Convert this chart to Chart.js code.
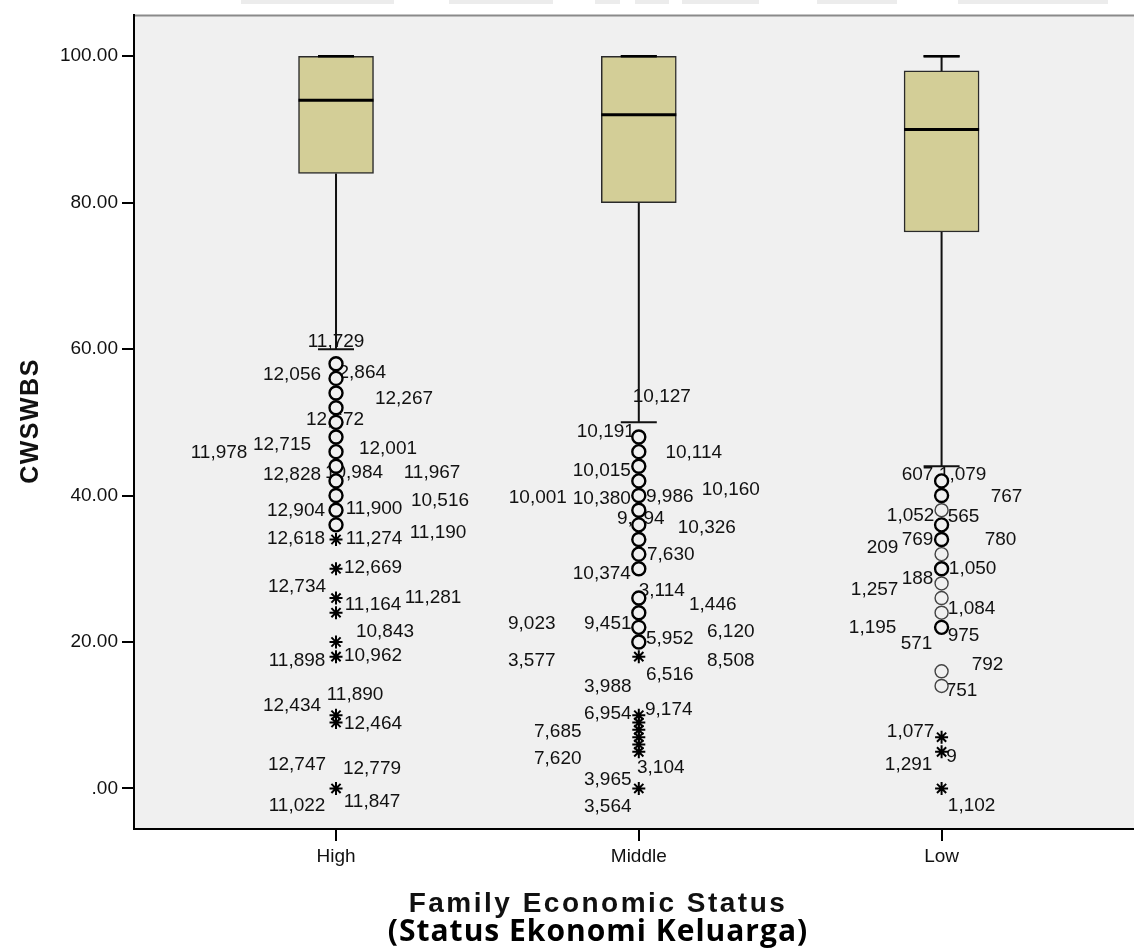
<!DOCTYPE html>
<html>
<head>
<meta charset="utf-8">
<script src="https://cdn.jsdelivr.net/npm/chart.js@4.4.0/dist/chart.umd.min.js"></script>
<style>
  html, body { margin: 0; padding: 0; background: #ffffff; }
  #wrap { width: 1134px; height: 948px; position: relative; }
</style>
</head>
<body>
<div id="wrap"><canvas id="c" width="1134" height="948"></canvas></div>
<script>
// ---------- DATA ----------
const categories = ["High", "Middle", "Low"];
const tickValues = [0, 20, 40, 60, 80, 100];
const tickLabels = [".00", "20.00", "40.00", "60.00", "80.00", "100.00"];

const whiskerLow  = [60, 50, 44];
const q1          = [84, 80, 76];
const medians     = [94, 92, 90];
const q3          = [100, 100, 98];
const whiskerHigh = [100, 100, 100];

const highCircles   = [58, 56, 54, 52, 50, 48, 46, 44, 42, 40, 38, 36];
const highStars     = [34, 30, 26, 24, 20, 18, 10, 9, 0];
const middleCircles = [48, 46, 44, 42, 40, 38, 36, 34, 32, 30, 26, 24, 22, 20];
const middleStars   = [18, 10, 9, 8, 7, 6, 5, 0];
const lowCirclesMulti  = [42, 40, 36, 34, 30, 22];
const lowCirclesSingle = [38, 32, 28, 26, 24, 16, 14];
const lowStars      = [7, 5, 0];

// outlier case labels: [text, value]
const highLabels = [
  ["11,729", 60.96], ["12,056", 56.52], ["12,864", 56.83], ["12,267", 53.25], ["12,672", 50.39],
  ["11,978", 45.84], ["12,715", 46.89], ["12,001", 46.38], ["12,828", 42.80], ["10,984", 43.07],
  ["11,967", 43.12], ["10,516", 39.26], ["12,904", 37.99], ["11,900", 38.13], ["11,190", 34.94],
  ["12,618", 34.05], ["11,274", 34.05], ["12,669", 30.10], ["12,734", 27.55], ["11,164", 25.10],
  ["11,281", 26.01], ["10,843", 21.46], ["11,898", 17.47], ["10,962", 18.15], ["11,890", 12.84],
  ["12,434", 11.34], ["12,464", 8.85], ["12,747", 3.17], ["12,779", 2.72], ["11,022", -2.41],
  ["11,847", -1.82]
];
const middleLabels = [
  ["10,127", 53.56], ["10,191", 48.70], ["10,114", 45.84], ["10,015", 43.35], ["10,001", 39.71],
  ["10,380", 39.63], ["9,986", 39.81], ["10,160", 40.86], ["9,394", 36.77], ["10,326", 35.63],
  ["7,630", 31.91], ["10,374", 29.36], ["3,114", 27.01], ["1,446", 25.10], ["9,023", 22.47],
  ["9,451", 22.47], ["5,952", 20.43], ["6,120", 21.46], ["3,577", 17.38], ["8,508", 17.38],
  ["6,516", 15.57], ["3,988", 13.84], ["6,954", 10.21], ["9,174", 10.76], ["7,685", 7.71],
  ["7,620", 4.09], ["3,104", 2.86], ["3,965", 1.23], ["3,564", -2.51]
];
const lowLabels = [
  ["607", 42.80], ["1,079", 42.80], ["767", 39.81], ["1,052", 37.22], ["565", 37.15],
  ["780", 33.91], ["209", 32.82], ["769", 33.91], ["1,050", 29.96], ["188", 28.60],
  ["1,257", 27.10], ["1,084", 24.51], ["1,195", 22.01], ["975", 20.88], ["571", 19.75],
  ["792", 16.93], ["751", 13.39], ["1,077", 7.71], ["9", 4.30], ["1,291", 3.17],
  ["1,102", -2.41]
];

// ---------- LAYOUT (pixel offsets of label centres from category centre) ----------
const highLabelDx = [0,-44,21,68,-1,-117,-54,52,-44,18,96,104,-40,38,102,-40,38,37,-39,37,97,49,-39,37,19,-44,37,-39,36,-39,36];
const middleLabelDx = [23,-33,55,-37,-101,-37,31,92,2,68,32,-37,23,74,-107,-31,31,92,-107,92,31,-31,-31,30,-81,-81,22,-31,-31];
const lowLabelDx = [-24,21,65,-31,22,59,-59,-24,31,-24,-67,30,-69,22,-25,46,20,-31,10,-33,30];

const FONT = "'Liberation Sans', Arial, sans-serif";
const PLOT_BG = "#f0f0f0";
const BOX_W = 75;
const X_MIN = 0.3328;
const X_MAX = 3.6061;

function pts(cat, arr) { return arr.map(v => ({ x: cat, y: v })); }

const circleStyle = { type: 'scatter', pointStyle: 'circle', pointRadius: 6.5, pointBorderWidth: 2.4,
  borderColor: '#000', backgroundColor: PLOT_BG, pointBackgroundColor: PLOT_BG, pointBorderColor: '#000', order: 1 };
const lightCircleStyle = Object.assign({}, circleStyle, { pointBorderWidth: 1.4, pointBorderColor: '#444' });
const starStyle = { type: 'scatter', pointStyle: 'star', pointRadius: 6.5, pointBorderWidth: 2,
  borderColor: '#000', pointBorderColor: '#000', backgroundColor: '#000', order: 1 };

const datasets = [
  {
    type: 'bar',
    data: categories.map((c, i) => ({ x: i + 1, y: [q1[i], q3[i]] })),
    backgroundColor: '#d3ce97',
    borderColor: '#2a2a2a',
    borderWidth: 1.5,
    borderSkipped: false,
    barThickness: BOX_W,
    grouped: false,
    order: 2
  },
  Object.assign({ data: pts(1, highCircles) }, circleStyle),
  Object.assign({ data: pts(1, highStars) }, starStyle),
  Object.assign({ data: pts(2, middleCircles) }, circleStyle),
  Object.assign({ data: pts(2, middleStars) }, starStyle),
  Object.assign({ data: pts(3, lowCirclesMulti) }, circleStyle),
  Object.assign({ data: pts(3, lowCirclesSingle) }, lightCircleStyle),
  Object.assign({ data: pts(3, lowStars) }, starStyle)
];

const boxPlugin = {
  id: 'boxPlugin',
  beforeDraw(chart) {
    const { ctx, chartArea: a } = chart;
    ctx.save();
    ctx.fillStyle = '#ffffff';
    ctx.fillRect(0, 0, chart.width, chart.height);
    ctx.fillStyle = PLOT_BG;
    ctx.fillRect(a.left, a.top, chart.width - a.left, a.bottom - a.top);
    ctx.fillStyle = '#ececec';
    [[241,153],[449,104],[595,25],[635,34],[682,77],[817,80],[958,150]].forEach(r => ctx.fillRect(r[0], 0, r[1], 4));
    ctx.strokeStyle = '#8a8a8a';
    ctx.lineWidth = 2;
    ctx.beginPath();
    ctx.moveTo(a.left, a.top);
    ctx.lineTo(chart.width, a.top);
    ctx.stroke();
    ctx.strokeStyle = '#000';
    ctx.beginPath();
    ctx.moveTo(a.left, a.bottom);
    ctx.lineTo(chart.width, a.bottom);
    ctx.stroke();
    ctx.restore();
  },
  beforeDatasetsDraw(chart) {
    const { ctx } = chart;
    const xs = chart.scales.x, ys = chart.scales.y;
    ctx.save();
    ctx.fillStyle = '#111';
    ctx.font = "19px " + FONT;
    ctx.textAlign = 'center';
    ctx.textBaseline = 'middle';
    const groups = [[highLabels, highLabelDx], [middleLabels, middleLabelDx], [lowLabels, lowLabelDx]];
    groups.forEach((g, ci) => {
      const cx = xs.getPixelForValue(ci + 1);
      g[0].forEach((lab, k) => {
        ctx.fillText(lab[0], cx + g[1][k], ys.getPixelForValue(lab[1]));
      });
    });
    ctx.strokeStyle = '#111';
    ctx.lineWidth = 2;
    categories.forEach((c, i) => {
      const cx = xs.getPixelForValue(i + 1);
      const cap = BOX_W * 0.48;
      const yl = ys.getPixelForValue(whiskerLow[i]);
      const yq1 = ys.getPixelForValue(q1[i]);
      const yq3 = ys.getPixelForValue(q3[i]);
      const yh = ys.getPixelForValue(whiskerHigh[i]);
      ctx.beginPath();
      ctx.moveTo(cx, yq1); ctx.lineTo(cx, yl);
      ctx.moveTo(cx - cap / 2, yl); ctx.lineTo(cx + cap / 2, yl);
      ctx.moveTo(cx, yq3); ctx.lineTo(cx, yh);
      ctx.moveTo(cx - cap / 2, yh); ctx.lineTo(cx + cap / 2, yh);
      ctx.stroke();
    });
    ctx.restore();
  },
  afterDatasetsDraw(chart) {
    const { ctx } = chart;
    const xs = chart.scales.x, ys = chart.scales.y;
    ctx.save();
    ctx.strokeStyle = '#000';
    categories.forEach((c, i) => {
      const cx = xs.getPixelForValue(i + 1);
      ctx.lineWidth = 3;
      ctx.beginPath();
      const ym = ys.getPixelForValue(medians[i]);
      ctx.moveTo(cx - BOX_W / 2, ym); ctx.lineTo(cx + BOX_W / 2, ym);
      ctx.stroke();
      const cap = BOX_W * 0.48;
      ctx.lineWidth = 2.5;
      ctx.beginPath();
      const yh = ys.getPixelForValue(whiskerHigh[i]);
      ctx.moveTo(cx - cap / 2, yh); ctx.lineTo(cx + cap / 2, yh);
      ctx.stroke();
    });
    ctx.restore();
  },
  afterDraw(chart) {
    const { ctx } = chart;
    ctx.save();
    ctx.fillStyle = '#111';
    ctx.font = "bold 25px " + FONT;
    ctx.letterSpacing = '1.5px';
    ctx.textAlign = 'center';
    ctx.textBaseline = 'middle';
    ctx.translate(31, 421);
    ctx.rotate(-Math.PI / 2);
    ctx.fillText("CWSWBS", 0, 0);
    ctx.restore();
    ctx.save();
    ctx.fillStyle = '#111';
    ctx.textAlign = 'center';
    ctx.textBaseline = 'middle';
    ctx.font = "bold 28px " + FONT;
    ctx.letterSpacing = '2.5px';
    ctx.fillText("Family Economic Status", 598, 904);
    ctx.fillStyle = '#000';
    ctx.letterSpacing = '1px';
    ctx.font = "bold 30px 'Open Sans', " + FONT;
    ctx.fillText("(Status Ekonomi Keluarga)", 598, 932);
    ctx.restore();
  }
};

new Chart(document.getElementById('c'), {
  type: 'bar',
  data: { datasets },
  plugins: [boxPlugin],
  options: {
    responsive: false,
    animation: false,
    devicePixelRatio: 1,
    layout: { padding: { top: 13, right: 0, left: 0, bottom: 0 } },
    plugins: { legend: { display: false }, tooltip: { enabled: false } },
    scales: {
      x: {
        type: 'linear',
        offset: false,
        min: X_MIN,
        max: X_MAX,
        afterBuildTicks: s => { s.ticks = categories.map((c, i) => ({ value: i + 1 })); },
        afterFit: s => { s.height = 119; },
        ticks: {
          callback: v => categories[v - 1] || '',
          font: { family: FONT, size: 19 },
          color: '#111',
          padding: 4,
          maxRotation: 0
        },
        grid: { offset: false, drawOnChartArea: false, drawTicks: true, tickLength: 12, color: '#000', lineWidth: 2 },
        border: { display: true, color: '#000', width: 2 }
      },
      y: {
        type: 'linear',
        min: -5.54,
        max: 105.58,
        afterBuildTicks: s => { s.ticks = tickValues.map(v => ({ value: v })); },
        afterFit: s => { s.width = 134; },
        ticks: {
          callback: (v) => tickLabels[tickValues.indexOf(v)],
          font: { family: FONT, size: 19 },
          color: '#111',
          padding: 4
        },
        grid: { drawOnChartArea: false, drawTicks: true, tickLength: 12, color: '#000', lineWidth: 2 },
        border: { display: true, color: '#000', width: 2 }
      }
    }
  }
});
</script>
</body>
</html>
